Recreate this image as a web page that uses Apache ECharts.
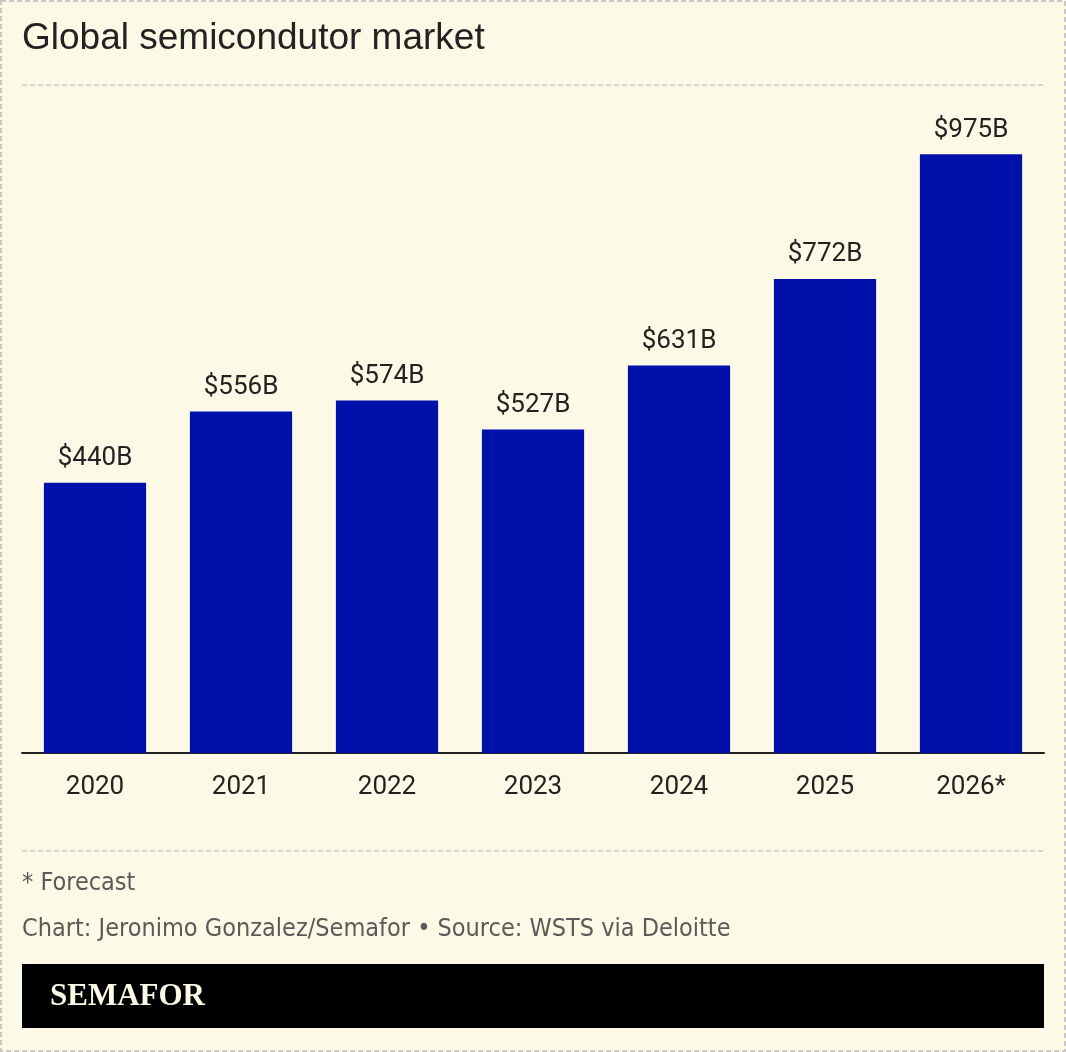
<!DOCTYPE html>
<html>
<head>
<meta charset="utf-8">
<script src="https://cdn.jsdelivr.net/npm/echarts@6/dist/echarts.min.js"></script>
<style>
  html, body { margin: 0; padding: 0; background: #fcf9e6; }
  #main { width: 1066px; height: 1052px; }
</style>
</head>
<body>
<div id="main"></div>
<script>
var years = ['2020', '2021', '2022', '2023', '2024', '2025', '2026*'];
var values = [440, 556, 574, 527, 631, 772, 975];

var chart = echarts.init(document.getElementById('main'));

var option = {
    backgroundColor: '#fcf9e6',
    animation: false,
    grid: {
        left: 22,
        right: 22,
        top: 139,
        height: 614
    },
    xAxis: {
        type: 'category',
        data: years,
        axisTick: { show: false },
        axisLine: { lineStyle: { color: '#222', width: 2 } },
        axisLabel: {
            color: '#222',
            fontSize: 26,
            fontFamily: 'Roboto',
            margin: 21
        }
    },
    yAxis: {
        type: 'value',
        min: 0,
        max: 1000,
        show: false,
        splitLine: { show: false }
    },
    series: [
        {
            type: 'bar',
            data: values,
            barWidth: '70%',
            itemStyle: { color: '#0010ab' },
            label: {
                show: true,
                position: 'top',
                distance: 11,
                color: '#222',
                fontSize: 26,
                fontFamily: 'Roboto',
                formatter: function (p) { return '$' + p.value + 'B'; }
            }
        }
    ],
    graphic: [
        // dashed frame
        {
            type: 'rect',
            shape: { x: 1, y: 1, width: 1064, height: 1050 },
            style: { fill: null, stroke: '#c9c9c9', lineWidth: 2, lineDash: [5, 3] },
            silent: true
        },
        {
            type: 'text',
            left: 22,
            top: 20,
            style: {
                text: 'Global semicondutor market',
                fill: '#222',
                font: '37px "Liberation Sans", Arial, sans-serif'
            }
        },
        {
            type: 'line',
            shape: { x1: 22, y1: 85, x2: 1044, y2: 85 },
            style: { stroke: '#c9c9c9', lineWidth: 1.5, lineDash: [5, 3] }
        },
        {
            type: 'line',
            shape: { x1: 22, y1: 851, x2: 1044, y2: 851 },
            style: { stroke: '#c9c9c9', lineWidth: 1.5, lineDash: [5, 3] }
        },
        {
            type: 'text',
            left: 22,
            top: 871,
            style: {
                text: '* Forecast',
                fill: '#5a5a5a',
                font: '25px "DejaVu Sans Condensed", sans-serif'
            }
        },
        {
            type: 'text',
            left: 22,
            top: 917,
            style: {
                text: 'Chart: Jeronimo Gonzalez/Semafor \u2022 Source: WSTS via Deloitte',
                fill: '#5a5a5a',
                font: '25px "DejaVu Sans Condensed", sans-serif'
            }
        },
        {
            type: 'rect',
            shape: { x: 22, y: 964, width: 1022, height: 64 },
            style: { fill: '#000' }
        },
        {
            type: 'text',
            left: 50,
            top: 981,
            style: {
                text: 'SEMAFOR',
                fill: '#fcf9e6',
                font: 'bold 31px "Liberation Serif", "DejaVu Serif", serif'
            }
        }
    ]
};

chart.setOption(option);
</script>
</body>
</html>
